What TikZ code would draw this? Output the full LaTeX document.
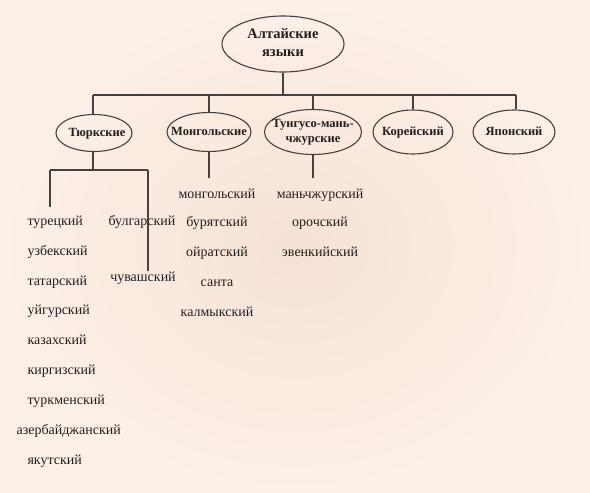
\documentclass[tikz,border=0pt]{standalone}
\usepackage{fontspec}
\setmainfont{Liberation Serif}
\usepackage{tikz}
\usetikzlibrary{shapes.geometric}

\definecolor{paper}{RGB}{247,226,213}
\definecolor{paperlight}{RGB}{252,240,232}
\definecolor{ink}{RGB}{35,30,30}
\definecolor{wire}{RGB}{70,65,65}

% text of fixed (zero) width inside an ellipse
\newcommand\elltext[1]{\makebox[0pt]{\begin{tabular}{@{}c@{}}#1\end{tabular}}}

\begin{document}
\begin{tikzpicture}[x=1pt,y=-1pt,line width=1.1pt,node distance=30pt,
    lang/.style={ellipse,draw=wire,inner sep=0pt,text=ink,font=\fontsize{12.5}{15.5}\selectfont\bfseries},
    item/.style={inner sep=0pt,text=ink,text height=10pt,text depth=3pt,font=\fontsize{14}{16}\selectfont}]
    \useasboundingbox (0,0) rectangle (590,493);
    \shade[inner color=paper,outer color=paperlight] (0,0) rectangle (590,493);

    \node (alt) [lang,minimum width=122pt,minimum height=56pt,font=\fontsize{14.5}{18}\selectfont\bfseries] at (283,44) {\elltext{Алтайские\\языки}};
    \node (turk) [lang,minimum width=76pt,minimum height=37pt] at (94,133) {\elltext{\hspace{6pt}Тюркские}};
    \node (mong) [lang,minimum width=84pt,minimum height=39pt] at (209,132) {\elltext{Монгольские}};
    \node (tung) [lang,minimum width=97pt,minimum height=45pt,font=\fontsize{12.5}{14.5}\selectfont\bfseries] at (313,132) {\elltext{Тунгусо-мань-\\чжурские}};
    \node (kor) [lang,minimum width=80pt,minimum height=44pt] at (413,132) {\elltext{Корейский}};
    \node (jap) [lang,minimum width=82pt,minimum height=44pt] at (514,132) {\elltext{Японский}};

    % turkic
    \node (t1) [item,anchor=west] at (27,222) {турецкий};
    \node (t2) [item,anchor=west] at (27,252) {узбекский};
    \node (t3) [item,anchor=west] at (27,282) {татарский};
    \node (t4) [item,anchor=west] at (27,311) {уйгурский};
    \node (t5) [item,anchor=west] at (27,341) {казахский};
    \node (t6) [item,anchor=west] at (27,371) {киргизский};
    \node (t7) [item,anchor=west] at (27,401) {туркменский};
    \node (t8) [item,anchor=west] at (16,431) {азербайджанский};
    \node (t9) [item,anchor=west] at (27,461) {якутский};
    \node (b1) [item] at (142,222) {булгарский};
    \node (b2) [item] at (143,278) {чувашский};

    % mongolic
    \node (m1) [item] at (217,195) {монгольский};
    \node (m2) [item,below of=m1,yshift=2pt] {бурятский};
    \node (m3) [item,below of=m2] {ойратский};
    \node (m4) [item,below of=m3] {санта};
    \node (m5) [item,below of=m4] {калмыкский};

    % tungusic
    \node (g1) [item] at (320,195) {маньчжурский};
    \node (g2) [item,below of=g1,yshift=2pt] {орочский};
    \node (g3) [item,below of=g2] {эвенкийский};

    \coordinate (bl) at (93,95);
    \coordinate (br) at (516,95);
    \coordinate (tl) at (50,170);
    \coordinate (tr) at (148,170);

    \begin{scope}[draw=wire]
    \draw (alt) -- (alt |- bl);
    \draw (bl) -- (br);
    \draw (bl) -- (bl |- turk.north);
    \draw (mong) -- (mong |- bl);
    \draw (tung) -- (tung |- bl);
    \draw (kor) -- (kor |- bl);
    \draw (br) -- (br |- jap.north);
    \draw (bl |- turk.south) -- (bl |- tl);
    \draw (tl) -- (tr);
    \draw[shorten >=8pt] (tl) -- (tl |- t1.north);
    \draw (tr) -- (tr |- b2.north);
    \draw[shorten >=10pt] (mong) -- (mong |- m1.north);
    \draw[shorten >=10pt] (tung) -- (tung |- g1.north);
    \end{scope}
\end{tikzpicture}
\end{document}
